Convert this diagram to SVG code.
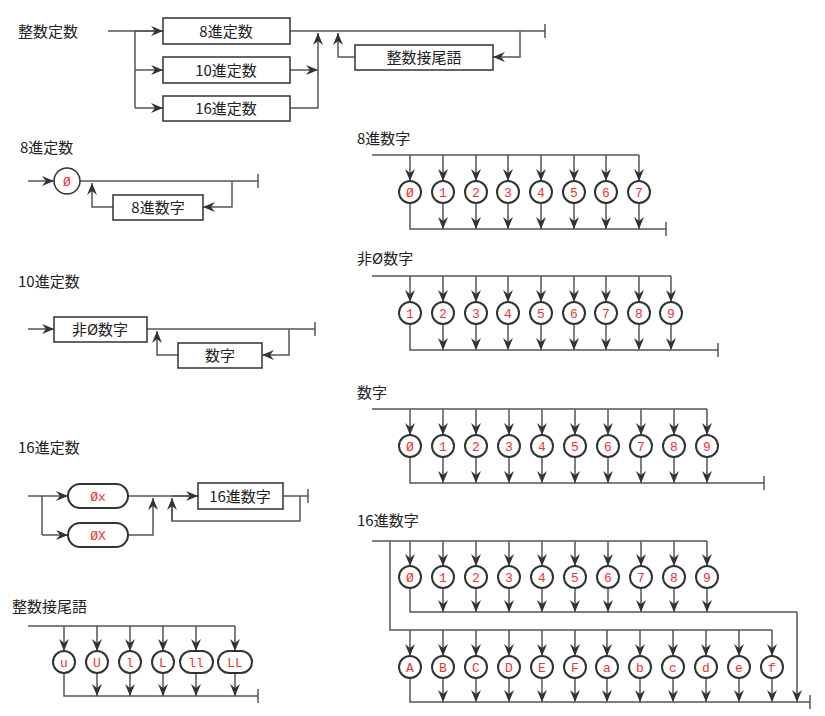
<svg xmlns="http://www.w3.org/2000/svg" width="825" height="716" viewBox="0 0 825 716">
<defs>
<marker id="a" markerUnits="userSpaceOnUse" markerWidth="12" markerHeight="10" refX="12" refY="5" orient="auto"><path d="M0,0 L12,5 L0,10 L4,5 z" fill="#333"/></marker>
<style>
.l{stroke:#555;stroke-width:1.5;fill:none}
.ar{stroke:#555;stroke-width:1.5;fill:none;marker-end:url(#a)}
.b{fill:#fff;stroke:#333;stroke-width:1.5}
.c{fill:#fff;stroke:#333;stroke-width:2}
.t{font-family:"Noto Sans CJK JP","Liberation Sans",sans-serif;font-size:15px;fill:#222}
.bt{font-family:"Noto Sans CJK JP","Liberation Sans",sans-serif;font-size:15px;fill:#222;text-anchor:middle}
.r{font-family:"Liberation Mono",monospace;font-size:13px;fill:#e33;text-anchor:middle}
</style>
</defs>
<rect width="825" height="716" fill="#fff"/>
<g id="titles">
<text class="t" x="18" y="37">整数定数</text>
<text class="t" x="20" y="153">8進定数</text>
<text class="t" x="18" y="287">10進定数</text>
<text class="t" x="18" y="453">16進定数</text>
<text class="t" x="12" y="612">整数接尾語</text>
<text class="t" x="357" y="144">8進数字</text>
<text class="t" x="357" y="264">非Ø数字</text>
<text class="t" x="357" y="398">数字</text>
<text class="t" x="357" y="526">16進数字</text>
</g>
<g id="connectors">
<!-- 整数定数 -->
<path class="l" d="M108,31 H545 M545,24 V38 M135,31 V108"/>
<path class="ar" d="M135,31 H163"/><path class="ar" d="M135,70 H163"/><path class="ar" d="M135,108 H163"/>
<path class="ar" d="M290,70 H318"/>
<path class="ar" d="M290,108 H318 V33"/>
<path class="ar" d="M520,31 V57 H493"/>
<path class="ar" d="M355,57 H338 V33"/>
<!-- 8進定数 -->
<path class="ar" d="M28,181 H54"/>
<path class="l" d="M80,181 H258 M258,174 V188"/>
<path class="ar" d="M232,181 V207 H203"/>
<path class="ar" d="M113,207 H92 V183"/>
<!-- 10進定数 -->
<path class="ar" d="M28,329 H54"/>
<path class="l" d="M147,329 H315 M315,322 V336"/>
<path class="ar" d="M289,329 V355 H262"/>
<path class="ar" d="M178,355 H157 V331"/>
<!-- 16進定数 -->
<path class="l" d="M28,496 H42 V535"/>
<path class="ar" d="M42,496 H68"/><path class="ar" d="M42,535 H68"/>
<path class="l" d="M128,496 H198"/>
<path class="ar" d="M128,535 H153 V498"/>
<path class="ar" d="M172,496 H198"/>
<path class="l" d="M283,496 H308 M308,489 V503"/>
<path class="l" d="M300,496 V521 H172 V502"/>
<path class="ar" d="M172,521 V498"/>
<!-- 整数接尾語 -->
<path class="l" d="M28,626 H235 M64,673 V696 H258 M258,689 V703"/>
<path class="ar" d="M64,626 V651"/><path class="ar" d="M97,626 V651"/><path class="ar" d="M130,626 V651"/><path class="ar" d="M163,626 V651"/><path class="ar" d="M196,626 V651"/><path class="ar" d="M235,626 V651"/>
<path class="ar" d="M97,673 V696"/><path class="ar" d="M130,673 V696"/><path class="ar" d="M163,673 V696"/><path class="ar" d="M196,673 V696"/><path class="ar" d="M235,673 V696"/>
<!-- 8進数字 -->
<path class="l" d="M372,155 H639 M410,203 V229 H666 M666,222 V236"/>
<path class="ar" d="M410,155 V181"/><path class="ar" d="M443,155 V181"/><path class="ar" d="M476,155 V181"/><path class="ar" d="M508,155 V181"/><path class="ar" d="M541,155 V181"/><path class="ar" d="M574,155 V181"/><path class="ar" d="M606,155 V181"/><path class="ar" d="M639,155 V181"/>
<path class="ar" d="M443,203 V229"/><path class="ar" d="M476,203 V229"/><path class="ar" d="M508,203 V229"/><path class="ar" d="M541,203 V229"/><path class="ar" d="M574,203 V229"/><path class="ar" d="M606,203 V229"/><path class="ar" d="M639,203 V229"/>
<!-- 非0数字 -->
<path class="l" d="M372,276 H671 M410,324 V350 H718 M718,343 V357"/>
<path class="ar" d="M410,276 V302"/><path class="ar" d="M443,276 V302"/><path class="ar" d="M476,276 V302"/><path class="ar" d="M508,276 V302"/><path class="ar" d="M541,276 V302"/><path class="ar" d="M574,276 V302"/><path class="ar" d="M606,276 V302"/><path class="ar" d="M639,276 V302"/><path class="ar" d="M671,276 V302"/>
<path class="ar" d="M443,324 V350"/><path class="ar" d="M476,324 V350"/><path class="ar" d="M508,324 V350"/><path class="ar" d="M541,324 V350"/><path class="ar" d="M574,324 V350"/><path class="ar" d="M606,324 V350"/><path class="ar" d="M639,324 V350"/><path class="ar" d="M671,324 V350"/>
<!-- 数字 -->
<path class="l" d="M372,409 H707 M410,457 V483 H764 M764,476 V490"/>
<path class="ar" d="M410,409 V435"/><path class="ar" d="M443,409 V435"/><path class="ar" d="M476,409 V435"/><path class="ar" d="M509,409 V435"/><path class="ar" d="M542,409 V435"/><path class="ar" d="M575,409 V435"/><path class="ar" d="M608,409 V435"/><path class="ar" d="M641,409 V435"/><path class="ar" d="M674,409 V435"/><path class="ar" d="M707,409 V435"/>
<path class="ar" d="M443,457 V483"/><path class="ar" d="M476,457 V483"/><path class="ar" d="M509,457 V483"/><path class="ar" d="M542,457 V483"/><path class="ar" d="M575,457 V483"/><path class="ar" d="M608,457 V483"/><path class="ar" d="M641,457 V483"/><path class="ar" d="M674,457 V483"/><path class="ar" d="M707,457 V483"/>
<!-- 16進数字 -->
<path class="l" d="M372,541 H707 M410,588 V612 H797 M390,541 V630 H772 M410,678 V702 H810 M810,695 V709"/>
<path class="ar" d="M797,612 V702"/>
<path class="ar" d="M410,541 V566"/><path class="ar" d="M443,541 V566"/><path class="ar" d="M476,541 V566"/><path class="ar" d="M509,541 V566"/><path class="ar" d="M542,541 V566"/><path class="ar" d="M575,541 V566"/><path class="ar" d="M608,541 V566"/><path class="ar" d="M641,541 V566"/><path class="ar" d="M674,541 V566"/><path class="ar" d="M707,541 V566"/>
<path class="ar" d="M443,588 V612"/><path class="ar" d="M476,588 V612"/><path class="ar" d="M509,588 V612"/><path class="ar" d="M542,588 V612"/><path class="ar" d="M575,588 V612"/><path class="ar" d="M608,588 V612"/><path class="ar" d="M641,588 V612"/><path class="ar" d="M674,588 V612"/><path class="ar" d="M707,588 V612"/>
<path class="ar" d="M410,630 V656"/><path class="ar" d="M443,630 V656"/><path class="ar" d="M476,630 V656"/><path class="ar" d="M509,630 V656"/><path class="ar" d="M542,630 V656"/><path class="ar" d="M575,630 V656"/><path class="ar" d="M607,630 V656"/><path class="ar" d="M640,630 V656"/><path class="ar" d="M673,630 V656"/><path class="ar" d="M706,630 V656"/><path class="ar" d="M739,630 V656"/><path class="ar" d="M772,630 V656"/>
<path class="ar" d="M443,678 V702"/><path class="ar" d="M476,678 V702"/><path class="ar" d="M509,678 V702"/><path class="ar" d="M542,678 V702"/><path class="ar" d="M575,678 V702"/><path class="ar" d="M607,678 V702"/><path class="ar" d="M640,678 V702"/><path class="ar" d="M673,678 V702"/><path class="ar" d="M706,678 V702"/><path class="ar" d="M739,678 V702"/><path class="ar" d="M772,678 V702"/>
</g>
<g id="boxes">
<g id="n-oct"><rect class="b" x="163" y="18" width="127" height="26"/><text class="bt" x="226" y="37">8進定数</text></g>
<g id="n-dec"><rect class="b" x="163" y="57" width="127" height="26"/><text class="bt" x="226" y="76">10進定数</text></g>
<g id="n-hex"><rect class="b" x="163" y="96" width="127" height="25"/><text class="bt" x="226" y="114">16進定数</text></g>
<g id="n-suf"><rect class="b" x="355" y="45" width="138" height="25"/><text class="bt" x="424" y="63">整数接尾語</text></g>
<g id="n-0"><circle class="b" cx="67" cy="181" r="13"/><text class="r" x="67" y="186">Ø</text></g>
<g id="n-oct-d"><rect class="b" x="113" y="195" width="90" height="25"/><text class="bt" x="158" y="213">8進数字</text></g>
<g id="n-nz"><rect class="b" x="54" y="317" width="93" height="25"/><text class="bt" x="100" y="335">非Ø数字</text></g>
<g id="n-d"><rect class="b" x="178" y="343" width="84" height="25"/><text class="bt" x="220" y="361">数字</text></g>
<g id="n-0x"><rect class="c" x="68" y="484" width="60" height="24" rx="12"/><text class="r" x="98" y="501">Øx</text></g>
<g id="n-0X"><rect class="c" x="68" y="523" width="60" height="24" rx="12"/><text class="r" x="98" y="540">ØX</text></g>
<g id="n-hexd"><rect class="b" x="198" y="483" width="85" height="26"/><text class="bt" x="240" y="502">16進数字</text></g>
</g>
<g id="suffix">
<circle class="c" cx="64" cy="662" r="11"/><text class="r" x="64" y="667">u</text>
<circle class="c" cx="97" cy="662" r="11"/><text class="r" x="97" y="667">U</text>
<circle class="c" cx="130" cy="662" r="11"/><text class="r" x="130" y="667">l</text>
<circle class="c" cx="163" cy="662" r="11"/><text class="r" x="163" y="667">L</text>
<rect class="c" x="180" y="651" width="33" height="22" rx="11"/><text class="r" x="196" y="667">ll</text>
<rect class="c" x="218" y="651" width="34" height="22" rx="11"/><text class="r" x="235" y="667">LL</text>
</g>
<g id="oct-digits">
<circle class="c" cx="410" cy="192" r="11"/><text class="r" x="410" y="197">Ø</text>
<circle class="c" cx="443" cy="192" r="11"/><text class="r" x="443" y="197">1</text>
<circle class="c" cx="476" cy="192" r="11"/><text class="r" x="476" y="197">2</text>
<circle class="c" cx="508" cy="192" r="11"/><text class="r" x="508" y="197">3</text>
<circle class="c" cx="541" cy="192" r="11"/><text class="r" x="541" y="197">4</text>
<circle class="c" cx="574" cy="192" r="11"/><text class="r" x="574" y="197">5</text>
<circle class="c" cx="606" cy="192" r="11"/><text class="r" x="606" y="197">6</text>
<circle class="c" cx="639" cy="192" r="11"/><text class="r" x="639" y="197">7</text>
</g>
<g id="nz-digits">
<circle class="c" cx="410" cy="313" r="11"/><text class="r" x="410" y="318">1</text>
<circle class="c" cx="443" cy="313" r="11"/><text class="r" x="443" y="318">2</text>
<circle class="c" cx="476" cy="313" r="11"/><text class="r" x="476" y="318">3</text>
<circle class="c" cx="508" cy="313" r="11"/><text class="r" x="508" y="318">4</text>
<circle class="c" cx="541" cy="313" r="11"/><text class="r" x="541" y="318">5</text>
<circle class="c" cx="574" cy="313" r="11"/><text class="r" x="574" y="318">6</text>
<circle class="c" cx="606" cy="313" r="11"/><text class="r" x="606" y="318">7</text>
<circle class="c" cx="639" cy="313" r="11"/><text class="r" x="639" y="318">8</text>
<circle class="c" cx="671" cy="313" r="11"/><text class="r" x="671" y="318">9</text>
</g>
<g id="dec-digits">
<circle class="c" cx="410" cy="446" r="11"/><text class="r" x="410" y="451">Ø</text>
<circle class="c" cx="443" cy="446" r="11"/><text class="r" x="443" y="451">1</text>
<circle class="c" cx="476" cy="446" r="11"/><text class="r" x="476" y="451">2</text>
<circle class="c" cx="509" cy="446" r="11"/><text class="r" x="509" y="451">3</text>
<circle class="c" cx="542" cy="446" r="11"/><text class="r" x="542" y="451">4</text>
<circle class="c" cx="575" cy="446" r="11"/><text class="r" x="575" y="451">5</text>
<circle class="c" cx="608" cy="446" r="11"/><text class="r" x="608" y="451">6</text>
<circle class="c" cx="641" cy="446" r="11"/><text class="r" x="641" y="451">7</text>
<circle class="c" cx="674" cy="446" r="11"/><text class="r" x="674" y="451">8</text>
<circle class="c" cx="707" cy="446" r="11"/><text class="r" x="707" y="451">9</text>
</g>
<g id="hex-digits">
<circle class="c" cx="410" cy="577" r="11"/><text class="r" x="410" y="582">Ø</text>
<circle class="c" cx="443" cy="577" r="11"/><text class="r" x="443" y="582">1</text>
<circle class="c" cx="476" cy="577" r="11"/><text class="r" x="476" y="582">2</text>
<circle class="c" cx="509" cy="577" r="11"/><text class="r" x="509" y="582">3</text>
<circle class="c" cx="542" cy="577" r="11"/><text class="r" x="542" y="582">4</text>
<circle class="c" cx="575" cy="577" r="11"/><text class="r" x="575" y="582">5</text>
<circle class="c" cx="608" cy="577" r="11"/><text class="r" x="608" y="582">6</text>
<circle class="c" cx="641" cy="577" r="11"/><text class="r" x="641" y="582">7</text>
<circle class="c" cx="674" cy="577" r="11"/><text class="r" x="674" y="582">8</text>
<circle class="c" cx="707" cy="577" r="11"/><text class="r" x="707" y="582">9</text>
<circle class="c" cx="410" cy="667" r="11"/><text class="r" x="410" y="672">A</text>
<circle class="c" cx="443" cy="667" r="11"/><text class="r" x="443" y="672">B</text>
<circle class="c" cx="476" cy="667" r="11"/><text class="r" x="476" y="672">C</text>
<circle class="c" cx="509" cy="667" r="11"/><text class="r" x="509" y="672">D</text>
<circle class="c" cx="542" cy="667" r="11"/><text class="r" x="542" y="672">E</text>
<circle class="c" cx="575" cy="667" r="11"/><text class="r" x="575" y="672">F</text>
<circle class="c" cx="607" cy="667" r="11"/><text class="r" x="607" y="672">a</text>
<circle class="c" cx="640" cy="667" r="11"/><text class="r" x="640" y="672">b</text>
<circle class="c" cx="673" cy="667" r="11"/><text class="r" x="673" y="672">c</text>
<circle class="c" cx="706" cy="667" r="11"/><text class="r" x="706" y="672">d</text>
<circle class="c" cx="739" cy="667" r="11"/><text class="r" x="739" y="672">e</text>
<circle class="c" cx="772" cy="667" r="11"/><text class="r" x="772" y="672">f</text>
</g>
</svg>
